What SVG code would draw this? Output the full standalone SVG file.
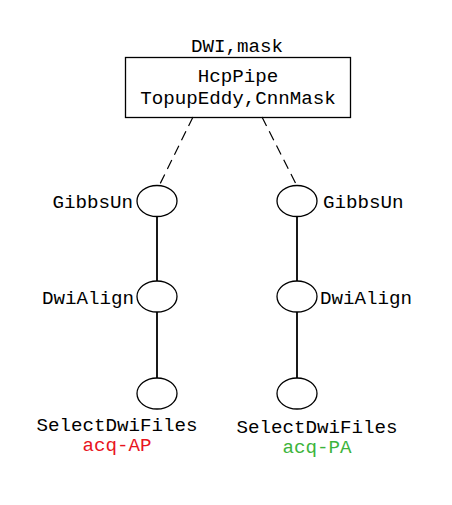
<svg xmlns="http://www.w3.org/2000/svg" width="452" height="505" viewBox="0 0 452 505">
<style>
text{font-family:"Liberation Mono","DejaVu Sans Mono",monospace;font-size:19.2px;fill:#000;}
.n{fill:none;stroke:#000;stroke-width:1.3;}
.e{stroke:#000;stroke-width:1.8;fill:none;}
.d{stroke:#000;stroke-width:1.2;stroke-dasharray:10,6;fill:none;}
</style>
<rect width="452" height="505" fill="#fff"/>
<g id="connectors">
<line class="d" x1="193" y1="117" x2="159" y2="186"/>
<line class="d" x1="262" y1="117" x2="297" y2="186"/>
<line class="e" x1="157" y1="216" x2="157" y2="281"/>
<line class="e" x1="157" y1="312" x2="157" y2="378"/>
<line class="e" x1="297" y1="216" x2="297" y2="281"/>
<line class="e" x1="297" y1="312" x2="297" y2="378"/>
</g>
<g id="hcp">
<text x="237" y="52" text-anchor="middle">DWI,mask</text>
<rect class="n" x="125.5" y="57.5" width="225" height="60"/>
<text x="238" y="82" text-anchor="middle">HcpPipe</text>
<text x="238" y="104" text-anchor="middle">TopupEddy,CnnMask</text>
</g>
<g id="gibbs-ap">
<ellipse class="n" cx="157" cy="201" rx="20" ry="15.5"/>
<text x="133" y="208" text-anchor="end">GibbsUn</text>
</g>
<g id="gibbs-pa">
<ellipse class="n" cx="297" cy="201" rx="20" ry="15.5"/>
<text x="323" y="208">GibbsUn</text>
</g>
<g id="align-ap">
<ellipse class="n" cx="157" cy="296.5" rx="20" ry="15.5"/>
<text x="134" y="304" text-anchor="end">DwiAlign</text>
</g>
<g id="align-pa">
<ellipse class="n" cx="297" cy="296.5" rx="20" ry="15.5"/>
<text x="320" y="304">DwiAlign</text>
</g>
<g id="select-ap">
<ellipse class="n" cx="157" cy="393.5" rx="20" ry="15.5"/>
<text x="117" y="431" text-anchor="middle">SelectDwiFiles</text>
<text x="117" y="451" text-anchor="middle" style="fill:#e8141e">acq-AP</text>
</g>
<g id="select-pa">
<ellipse class="n" cx="297" cy="393.5" rx="20" ry="15.5"/>
<text x="317" y="433" text-anchor="middle">SelectDwiFiles</text>
<text x="317" y="453" text-anchor="middle" style="fill:#3cb43c">acq-PA</text>
</g>
</svg>
